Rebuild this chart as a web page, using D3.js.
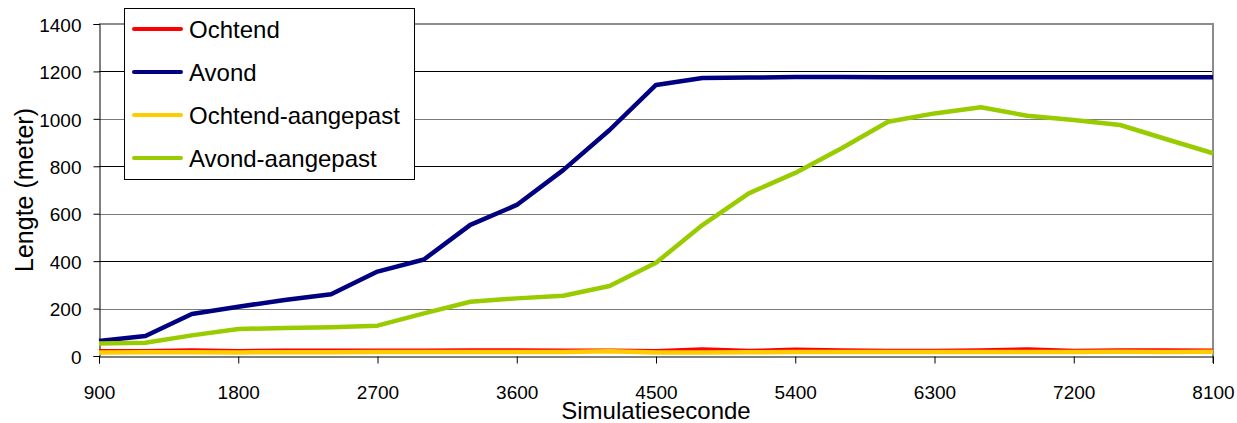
<!DOCTYPE html>
<html>
<head>
<meta charset="utf-8">
<script src="https://cdn.jsdelivr.net/npm/d3@7"></script>
<style>
  html, body { margin: 0; padding: 0; background: #fff; }
  svg { display: block; font-family: "Liberation Sans", Arial, sans-serif; }
</style>
</head>
<body>
<svg id="chart" width="1237" height="423"></svg>
<script>
// ---- data ----
const seconds = [900,1200,1500,1800,2100,2400,2700,3000,3300,3600,3900,4200,4500,4800,5100,5400,5700,6000,6300,6600,6900,7200,7500,7800,8100];
const ochtend = [20,20,23,20,22,22,22,22,23,23,22,22,20,27,21,26,23,21,21,23,27,21,23,23,22];
const avond = [63,84,177,208,236,260,356,407,553,637,784,953,1143,1172,1174,1176,1176,1175,1175,1175,1175,1175,1175,1175,1175];
const ochtendAangepast = [15,16,16,15,16,16,17,17,17,17,17,20,15,15,16,17,17,17,17,17,17,17,18,17,18];
const avondAangepast = [53,56,87,114,118,121,128,180,229,243,254,295,393,552,686,772,876,988,1023,1049,1013,995,974,914,855];
const seriesNames = ["Ochtend","Avond","Ochtend-aangepast","Avond-aangepast"];
const seriesColors = ["#FF0000","#000080","#FFCC00","#99CC00"];
const xTicks = [900,1800,2700,3600,4500,5400,6300,7200,8100];
const yTicks = [0,200,400,600,800,1000,1200,1400];
const xTitle = "Simulatieseconde";
const yTitle = "Lengte (meter)";

// ---- layout ----
const svg = d3.select("#chart");
const pLeft = 99, pRight = 1213, pTop = 24, pBottom = 356;
const x = d3.scaleLinear().domain([900, 8100]).range([pLeft, pRight]);
const y = d3.scaleLinear().domain([0, 1400]).range([pBottom, pTop]);

// gridlines
svg.append("g").selectAll("line")
  .data(yTicks.filter(v => v > 0 && v < 1400))
  .join("line")
  .attr("x1", pLeft).attr("x2", pRight)
  .attr("y1", d => Math.round(y(d)) + 0.5).attr("y2", d => Math.round(y(d)) + 0.5)
  .attr("stroke", (d, i) => (i % 2 === 0) ? "#7a7a7a" : "#000")
  .attr("stroke-width", 1);

// top & right border (gray)
svg.append("line").attr("x1", pLeft).attr("x2", pRight).attr("y1", y(1400)).attr("y2", y(1400))
  .attr("stroke", "#8c8c8c").attr("stroke-width", 2);
svg.append("line").attr("x1", pRight).attr("x2", pRight).attr("y1", y(1400) - 1).attr("y2", pBottom + 7)
  .attr("stroke", "#8c8c8c").attr("stroke-width", 2);

// axes
const yAxis = d3.axisLeft(y).tickValues(yTicks).tickSize(6).tickPadding(12).tickFormat(d3.format("d"));
const gy = svg.append("g").attr("transform", `translate(${pLeft + 0.5},0)`).call(yAxis);
gy.select(".domain").attr("stroke", "#000");
gy.selectAll(".tick line").attr("stroke", "#000");
gy.selectAll(".tick text").attr("font-size", 19).attr("fill", "#000")
  .attr("font-family", "Liberation Sans, Arial, sans-serif").attr("dy", "0.38em");

const xAxis = d3.axisBottom(x).tickValues(xTicks).tickSize(7).tickPadding(0).tickFormat(d3.format("d"));
const gx = svg.append("g").attr("transform", `translate(0,${pBottom + 0.5})`).call(xAxis);
gx.select(".domain").attr("stroke", "#000");
gx.selectAll(".tick line").attr("stroke", "#000");
gx.selectAll(".tick text").attr("font-size", 19).attr("fill", "#000")
  .attr("font-family", "Liberation Sans, Arial, sans-serif")
  .attr("dy", null).attr("y", 42);

// lines
const allSeries = [ochtend, avond, ochtendAangepast, avondAangepast];
const line = d3.line().x((d, i) => x(seconds[i])).y(d => y(d));
[0, 1, 2, 3].forEach(k => {
  svg.append("path")
    .datum(allSeries[k])
    .attr("d", line)
    .attr("fill", "none")
    .attr("stroke", seriesColors[k])
    .attr("stroke-width", 4.5)
    .attr("stroke-linejoin", "round");
});

// axis titles
svg.append("text").attr("x", (pLeft + pRight) / 2).attr("y", 419)
  .attr("text-anchor", "middle").attr("font-size", 24).attr("fill", "#000").text(xTitle);
svg.append("text").attr("transform", "translate(33,190) rotate(-90)")
  .attr("text-anchor", "middle").attr("font-size", 25).attr("fill", "#000").text(yTitle);

// legend
const lg = svg.append("g");
lg.append("rect").attr("x", 124.5).attr("y", 8.5).attr("width", 290).attr("height", 171)
  .attr("fill", "#fff").attr("stroke", "#000").attr("stroke-width", 1);
const legendY = d3.scalePoint().domain(seriesNames).range([29, 158]);
seriesNames.forEach((name, k) => {
  const ly = legendY(name);
  lg.append("line").attr("x1", 134).attr("x2", 181).attr("y1", ly).attr("y2", ly)
    .attr("stroke", seriesColors[k]).attr("stroke-width", 4).attr("stroke-linecap", "round");
  lg.append("text").attr("x", 189).attr("y", ly + 9).attr("font-size", 24).attr("fill", "#000").text(name);
});
</script>
</body>
</html>
